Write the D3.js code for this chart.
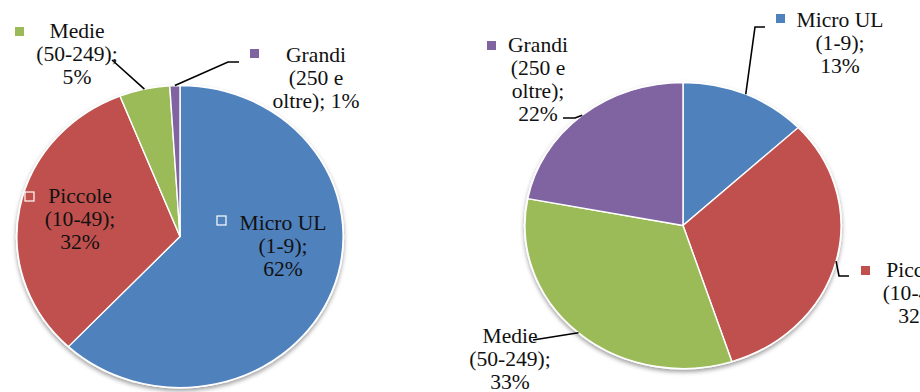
<!DOCTYPE html>
<html>
<head>
<meta charset="utf-8">
<script src="https://cdn.jsdelivr.net/npm/d3@7"></script>
</head>
<body style="margin:0;background:#fff">
<svg id="chart" width="920" height="392" style="display:block;font-family:'Liberation Serif',serif"></svg>
<script>
// Imprese per classe di addetti: due distribuzioni a torta
const categories = ["Micro UL", "Piccole", "Medie", "Grandi"];
const ranges = ["(1-9)", "(10-49)", "(50-249)", "(250 e oltre)"];
const sharesLeft = [62, 32, 5, 1];
const sharesRight = [13, 32, 33, 22];

const colors = ["#4F81BD", "#C0504D", "#9BBB59", "#8064A2"];

// geometry of each pie (slightly wider than tall) and its label layout
const pies = [
  {
    values: sharesLeft, cx: 180, cy: 236.5, r: 151, kx: 1.08,
    labels: [
      { words: [2, 1, 1], x: 283, y: 230, marker: [217, 216], inside: true },
      { words: [1, 1, 1], x: 80, y: 203, marker: [25, 192], inside: true },
      { words: [1, 1, 1], x: 77, y: 38, marker: [15, 27], leader: [[112, 60]] },
      { words: [1, 2, 2], x: 316, y: 62, marker: [250, 49], leader: [[239, 62], [228, 62]] }
    ]
  },
  {
    values: sharesRight, cx: 683, cy: 225.5, r: 143, kx: 1.105,
    labels: [
      { words: [2, 1, 1], x: 840, y: 27, marker: [776, 14], leader: [[765, 27], [755, 27]] },
      { words: [1, 1, 1], x: 918, y: 277, marker: [861, 266], leader: [[849, 276], [839, 276]] },
      { words: [1, 1, 1], x: 510, y: 343, marker: null, leader: [[533, 340]] },
      { words: [1, 2, 1, 1], x: 538, y: 52, marker: [487, 41], leader: [[563, 118], [575, 118]] }
    ]
  }
];

const svg = d3.select("#chart");
const defs = svg.append("defs");
const shadow = defs.append("filter").attr("id", "pieShadow")
  .attr("x", "-10%").attr("y", "-10%").attr("width", "120%").attr("height", "125%");
shadow.append("feDropShadow")
  .attr("dx", 0).attr("dy", 2.5).attr("stdDeviation", 2)
  .attr("flood-color", "#000").attr("flood-opacity", 0.38);

const pieGen = d3.pie().sort(null).value(d => d);
const lineGen = d3.line();
const textScale = 1.08;
const lineHeight = 23;

pies.forEach(p => {
  const arcs = pieGen(p.values);
  const arc = d3.arc().innerRadius(0).outerRadius(p.r);

  const g = svg.append("g")
    .attr("transform", `translate(${p.cx},${p.cy}) scale(${p.kx},1)`);

  // white rim and shadow beneath the slices
  g.append("circle")
    .attr("r", p.r + 1)
    .attr("fill", "#fff")
    .attr("filter", "url(#pieShadow)");

  g.selectAll("path.slice")
    .data(arcs)
    .join("path")
    .attr("class", "slice")
    .attr("d", arc)
    .attr("fill", (d, i) => colors[i])
    .attr("stroke", "#fff")
    .attr("stroke-width", 1.3)
    .attr("stroke-linejoin", "round");

  // leader lines from each slice's outer midpoint
  arcs.forEach((a, i) => {
    const lab = p.labels[i];
    if (!lab.leader) return;
    const mid = (a.startAngle + a.endAngle) / 2;
    const edge = [p.cx + p.kx * p.r * Math.sin(mid), p.cy - p.r * Math.cos(mid)];
    svg.append("path")
      .attr("d", lineGen([...lab.leader, edge]))
      .attr("fill", "none")
      .attr("stroke", "#000")
      .attr("stroke-width", 1.6);
  });

  // data labels with their legend keys
  arcs.forEach((a, i) => {
    const lab = p.labels[i];
    const text = `${categories[i]} ${ranges[i]}; ${p.values[i]}%`;
    const tokens = text.split(" ");
    const lines = [];
    let k = 0;
    lab.words.forEach(n => { lines.push(tokens.slice(k, k + n).join(" ")); k += n; });

    if (lab.marker) {
      svg.append("rect")
        .attr("x", lab.marker[0]).attr("y", lab.marker[1])
        .attr("width", 9).attr("height", 9)
        .attr("fill", colors[i])
        .attr("stroke", lab.inside ? "#fff" : "none")
        .attr("stroke-width", 1.2);
    }

    const t = svg.append("text")
      .attr("transform", `translate(${lab.x},${lab.y}) scale(${textScale},1)`)
      .attr("text-anchor", "middle")
      .style("font-family", "Liberation Serif")
      .style("font-size", "20px")
      .attr("fill", "#111");
    lines.forEach((ln, j) => {
      t.append("tspan")
        .attr("x", 0).attr("y", j * lineHeight)
        .style("font-family", "Liberation Serif")
        .text(ln);
    });
  });
});
</script>
</body>
</html>
